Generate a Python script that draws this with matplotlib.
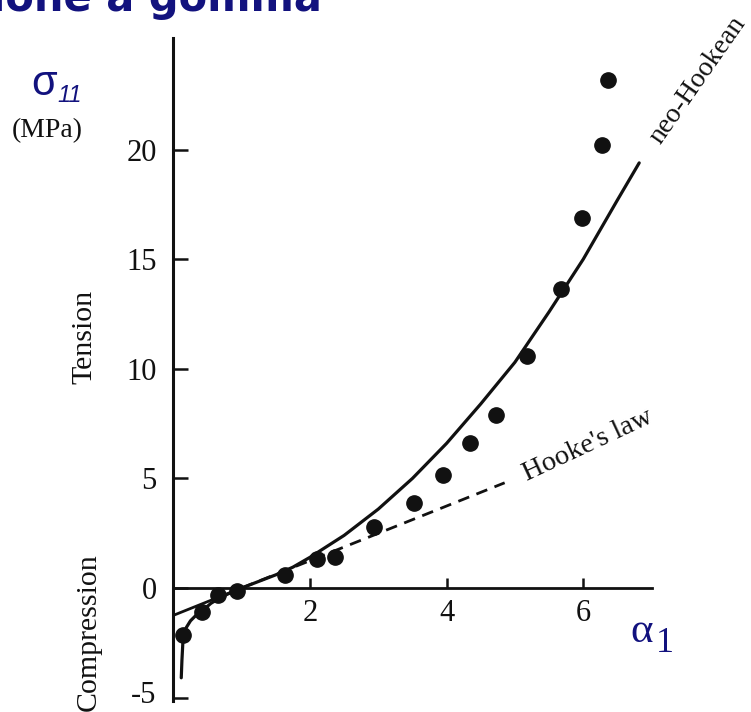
import matplotlib
matplotlib.use("Agg")
import matplotlib.pyplot as plt
import matplotlib.transforms as mtransforms

# ---- data ----
alpha_pts = [0.14, 0.42, 0.66, 0.93, 1.63, 2.10, 2.37, 2.94, 3.52, 3.95, 4.34, 4.72, 5.18, 5.68, 5.98, 6.27, 6.36]
sigma_pts = [-2.15, -1.10, -0.32, -0.12, 0.60, 1.30, 1.42, 2.80, 3.90, 5.15, 6.60, 7.90, 10.60, 13.65, 16.90, 20.20, 23.20]

neo_alpha = [0.115, 0.125, 0.14, 0.16, 0.19, 0.25, 0.33, 0.42, 0.55, 0.70, 0.85, 1.0, 1.25, 1.5, 1.75,
             2.0, 2.5, 3.0, 3.5, 4.0, 4.5, 5.0, 5.5, 6.0, 6.5, 6.82]
neo_sigma = [-4.1, -3.3, -2.4, -2.05, -1.8, -1.5, -1.25, -1.05, -0.7, -0.42, -0.2, 0.0, 0.3, 0.6, 0.95,
             1.4, 2.4, 3.6, 5.0, 6.6, 8.4, 10.3, 12.6, 15.0, 17.7, 19.4]

hooke_solid_alpha = [0.0, 1.0]
hooke_solid_sigma = [-1.25, 0.0]
hooke_dash_alpha = [1.0, 4.85]
hooke_dash_sigma = [0.0, 4.8]

x_ticks = [2, 4, 6]
y_ticks = [-5, 0, 5, 10, 15, 20]

W, H = 751, 712
NAVY = "#12127e"
INK = "#111111"
SERIF = ["Liberation Serif", "DejaVu Serif"]

fig = plt.figure(figsize=(W / 100, H / 100), dpi=100)
fig.patch.set_facecolor("white")

# axes placement (pixels): x 0..7 -> 173.4..651.5 ; y -5.15..25.1 -> 700.8..38
x0, x1 = 173.4, 651.5
y_bot, y_top = 700.8, 38.0
ax = fig.add_axes([x0 / W, 1 - y_bot / H, (x1 - x0) / W, (y_bot - y_top) / H])
ax.set_xlim(0, 7)
ax.set_ylim(-5.15, 25.1)

for s in ["top", "right"]:
    ax.spines[s].set_visible(False)
ax.spines["bottom"].set_position(("data", 0))
ax.spines["left"].set_linewidth(2.2)
ax.spines["bottom"].set_linewidth(2.0)
ax.spines["left"].set_color(INK)
ax.spines["bottom"].set_color(INK)

ax.set_xticks(x_ticks)
ax.set_xticklabels([str(v) for v in x_ticks])
ax.set_yticks(y_ticks)
ax.set_yticklabels([str(v) for v in y_ticks])
ax.tick_params(axis="y", direction="in", length=11, width=1.8, pad=12, labelsize=22, colors=INK)
ax.tick_params(axis="x", direction="in", length=7, width=1.8, pad=8, labelsize=22, colors=INK)
for lab in ax.get_xticklabels() + ax.get_yticklabels():
    lab.set_family(SERIF)

# lift the "-5" label slightly, as in the reference
lift = mtransforms.ScaledTranslation(0, 6 / 100, fig.dpi_scale_trans)
lab_m5 = ax.yaxis.get_major_ticks()[0].label1
lab_m5.set_transform(lab_m5.get_transform() + lift)

# curves
ax.plot(neo_alpha, neo_sigma, color=INK, lw=2.3, solid_capstyle="round", zorder=3)
ax.plot(hooke_solid_alpha, hooke_solid_sigma, color=INK, lw=2.0, zorder=3)
ax.plot(hooke_dash_alpha, hooke_dash_sigma, color=INK, lw=2.0, linestyle=(0, (4.2, 2.8)), zorder=3)
ax.plot(alpha_pts, sigma_pts, linestyle="none", marker="o", markersize=11,
        color=INK, zorder=4, clip_on=False)


def px(x, y):
    return x / W, 1 - y / H

# curve labels
fig.text(*px(698, 80), "neo-Hookean", rotation=55, fontsize=20, family=SERIF,
         ha="center", va="center", color=INK, rotation_mode="anchor")
fig.text(*px(588, 445), "Hooke's law", rotation=25, fontsize=20.5, family=SERIF,
         ha="center", va="center", color=INK, rotation_mode="anchor")

# axis side labels
fig.text(*px(84, 337), "Tension", rotation=90, fontsize=21.5, family=SERIF,
         ha="center", va="center", color=INK)
fig.text(*px(89, 632), "Compression", rotation=90, fontsize=21.5, family=SERIF,
         ha="center", va="center", color=INK)
fig.text(*px(83, 131), "(MPa)", fontsize=20, family=SERIF,
         ha="right", va="center", color=INK)

# blue symbols
fig.text(*px(31, 95), "σ", fontsize=30, family=["Liberation Sans", "DejaVu Sans"],
         ha="left", va="baseline", color=NAVY)
fig.text(*px(57, 102), "11", fontsize=17, family=["Liberation Sans", "DejaVu Sans"],
         style="italic", ha="left", va="baseline", color=NAVY)
fig.text(*px(630, 642), "α", fontsize=31, family=SERIF,
         ha="left", va="baseline", color=NAVY)
fig.text(*px(656, 652), "1", fontsize=26, family=SERIF,
         ha="left", va="baseline", color=NAVY)

# title (cut off at the top of the picture, as in the reference)
fig.text(*px(322, 11), "Curva sforzo-deformazione a gomma", fontsize=30, fontweight="bold",
         family=["DejaVu Sans"], ha="right", va="baseline", color=NAVY)

fig.savefig("out.png", dpi=100, facecolor="white")
